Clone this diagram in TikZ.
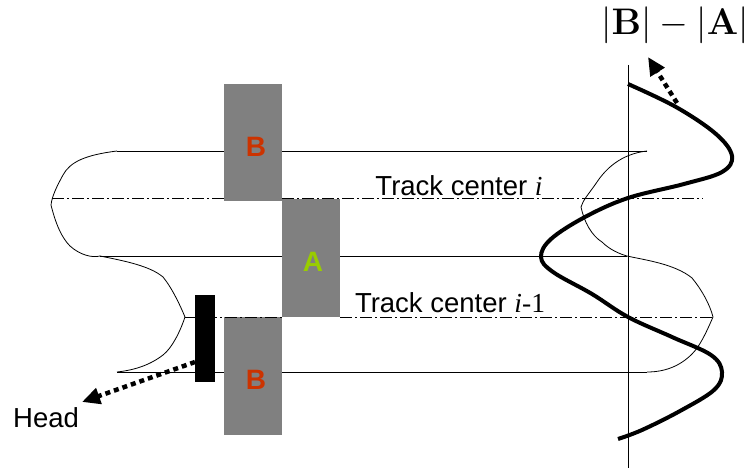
\documentclass[tikz,border=0pt]{standalone}
\usepackage{fix-cm}
\usepackage[no-math]{fontspec}
\setmainfont{Liberation Sans}
\newfontfamily\serifit{Liberation Serif}
\usetikzlibrary{arrows.meta}
\definecolor{boxgray}{HTML}{808080}
\definecolor{bred}{HTML}{CC3300}
\definecolor{agreen}{HTML}{99CC00}
\tikzset{
  thin line/.style={line width=0.8pt},
  center line/.style={line width=0.8pt, dash pattern=on 12pt off 3pt on 2pt off 3pt},
  magnet/.style={fill=boxgray, draw=none, minimum width=58pt, inner sep=0pt, font=\fontsize{28}{32}\selectfont\bfseries},
  label/.style={font=\fontsize{27.5}{32}\selectfont, inner sep=0pt},
  dotarrow/.style={line width=4.5pt, dash pattern=on 5pt off 4pt, -{Triangle[length=18pt,width=16pt]}},
}
\begin{document}
\begin{tikzpicture}[x=1pt,y=-1pt]
\useasboundingbox (0,0) rectangle (751,468);
% magnets
\node[magnet, minimum height=117pt, anchor=north west] (B1) at (224,84) {};
\node[magnet, minimum height=118pt, anchor=north west] (A) at (282,199) {};
\node[magnet, minimum height=118pt, anchor=north west] (B2) at (224,317) {};
\node[text=bred, font=\fontsize{28}{32}\selectfont\bfseries] (lb1) at (256,147) {B};
\node[text=agreen, font=\fontsize{28}{32}\selectfont\bfseries] (la) at (313,262) {A};
\node[text=bred, font=\fontsize{28}{32}\selectfont\bfseries] (lb2) at (256,380) {B};
% track edges
\coordinate (t1l) at (117,151); \coordinate (t1r) at (647,151);
\coordinate (t2l) at (100,256); \coordinate (t2r) at (627,256);
\coordinate (t3l) at (117,372); \coordinate (t3r) at (647,372);
\draw[thin line] (t1l) -- (B1.west |- t1l) (B1.east |- t1l) -- (t1r);
\draw[thin line] (t2l) -- (A.west |- t2l) (A.east |- t2l) -- (t2r);
\draw[thin line] (t3l) -- (B2.west |- t3l) (B2.east |- t3l) -- (t3r);
% left written trajectory
\draw[thin line] (t1l) .. controls (85,155) and (70,162) .. (63,175)
  .. controls (57,186) and (52,196) .. (51,205)
  .. controls (56,225) and (62,238) .. (70,246)
  .. controls (80,255) and (92,258) .. (t2l)
  .. controls (125,261) and (150,266) .. (163,277)
  .. controls (172,288) and (180,305) .. (185,317)
  .. controls (180,332) and (172,348) .. (163,355)
  .. controls (150,365) and (135,370) .. (t3l);
% right written trajectory
\draw[thin line] (t1r) .. controls (620,154) and (605,170) .. (597,182)
  .. controls (588,195) and (583,200) .. (581,207)
  .. controls (584,222) and (592,236) .. (602,242)
  .. controls (610,250) and (620,254) .. (t2r)
  .. controls (645,260) and (675,264) .. (692,278)
  .. controls (702,290) and (710,305) .. (713,317)
  .. controls (706,333) and (700,346) .. (692,354)
  .. controls (680,366) and (665,372) .. (t3r);
% track centre lines
\coordinate (c1l) at (52,198); \coordinate (c1r) at (703,198);
\coordinate (c2l) at (185,317); \coordinate (c2r) at (713,317);
\draw[center line] (c1l) -- (B1.west |- c1l) (B1.east |- c1l) -- (c1r);
\draw[center line] (c2l) -- (A.west |- c2l) (A.east |- c2l) -- (c2r);
\node[label, anchor=base] (tc1) at (459,195) {Track center {\serifit\itshape i}};
\node[label, anchor=base] (tc2) at (450,312) {Track center {\serifit\itshape i}{\serifit -1}};
% head
\node[fill=black, minimum width=20pt, minimum height=87pt, inner sep=0pt, anchor=north west] (head) at (195,295) {};
\node[label, anchor=base west] (headlbl) at (13,427) {Head};
\coordinate (hs) at (195,362);
\coordinate (ht) at (82,402);
\draw[dotarrow] (hs) -- (ht);
% axis
\coordinate (axt) at (628,65); \coordinate (axb) at (628,468);
\draw[thin line] (axt) -- (axb);
% signal
\draw[line width=4pt, line cap=butt] plot[smooth, tension=0.6] coordinates {
 (628,84) (676,107) (716,134) (732,156) (722,172) (684,184) (628,198)
 (585,217) (551,239) (541,257) (553,272) (592,294) (628,317) (672,337)
 (711,355) (722,372) (714,390) (680,411) (642,430) (618,439)};
\node[font=\fontsize{37}{42}\selectfont, inner sep=0pt, anchor=base] (sig) at (675,35) {$|\mathbf{B}|-|\mathbf{A}|$};
\coordinate (ss) at (677,103);
\coordinate (st) at (648,57);
\draw[dotarrow] (ss) -- (st);
\end{tikzpicture}
\end{document}
